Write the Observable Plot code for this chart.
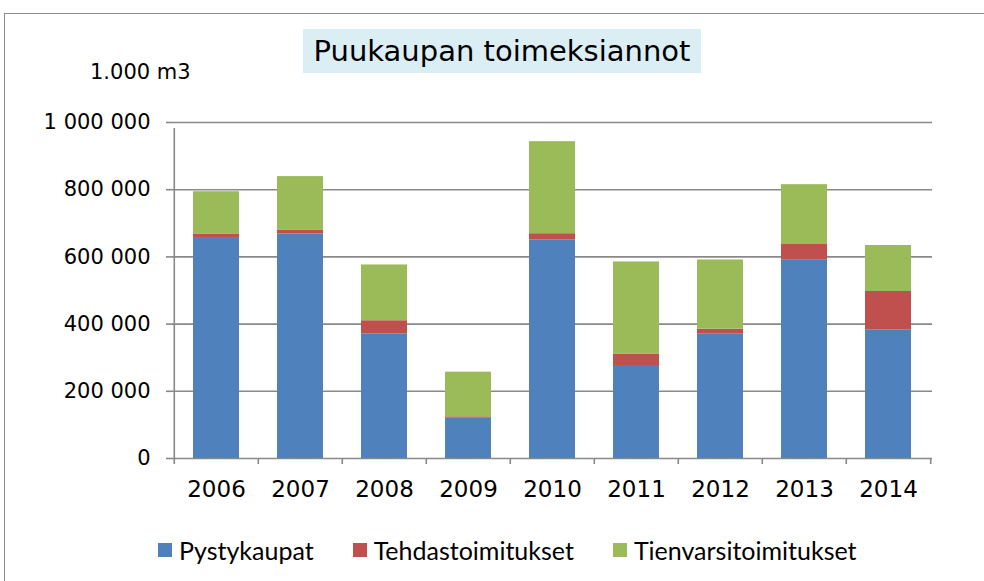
<!DOCTYPE html>
<html>
<head>
<meta charset="utf-8">
<script src="https://cdn.jsdelivr.net/npm/d3@7"></script>
<script src="https://cdn.jsdelivr.net/npm/@observablehq/plot@0.6"></script>
<style>
  html, body { margin: 0; padding: 0; background: #fff; }
  #wrap { position: relative; width: 984px; height: 581px; overflow: hidden; background: #fff; }
  #frame { position: absolute; left: 4px; top: 13px; width: 1000px; height: 600px; border: 1.5px solid #8c8c8c; box-sizing: border-box; }
  #title { position: absolute; left: 303px; top: 29px; width: 398px; height: 44px; background: #DBEEF4;
           font-family: "DejaVu Sans", Verdana, sans-serif; font-size: 29px; line-height: 44px; text-align: center; color: #000; }
  #unit { position: absolute; left: 90px; top: 60px; font-family: "DejaVu Sans", Verdana, sans-serif; font-size: 21px; color: #000; }
  #chart { position: absolute; left: 0; top: 0; }
  #legend { position: absolute; left: 158px; top: 535px; display: flex; gap: 39px; font-family: Lato, "Open Sans", sans-serif; font-size: 25px; color: #000; }
  .item { display: flex; align-items: center; gap: 7px; }
  .sw { width: 14px; height: 14px; display: inline-block; }
</style>
</head>
<body>
<div id="wrap">
  <div id="frame"></div>
  <div id="chart"></div>
  <div id="title">Puukaupan toimeksiannot</div>
  <div id="unit">1.000 m3</div>
  <div id="legend"></div>
</div>
<script>
const years = ["2006", "2007", "2008", "2009", "2010", "2011", "2012", "2013", "2014"];
const pystykaupat = [655000, 668000, 371000, 120000, 650000, 274000, 370000, 590000, 382000];
const tehdastoimitukset = [12000, 11000, 39000, 4000, 19000, 37000, 15000, 47000, 115000];
const tienvarsitoimitukset = [127000, 160000, 166000, 133000, 274000, 274000, 206000, 178000, 137000];
const seriesNames = ["Pystykaupat", "Tehdastoimitukset", "Tienvarsitoimitukset"];
const seriesColors = ["#4F81BD", "#C0504D", "#9BBB59"];
const yTicks = [0, 200000, 400000, 600000, 800000, 1000000];

const seriesValues = [pystykaupat, tehdastoimitukset, tienvarsitoimitukset];
const table = [];
seriesNames.forEach((s, si) => years.forEach((y, i) => table.push({year: y, series: s, value: seriesValues[si][i]})));

const width = 984, marginLeft = 172, marginRight = 52;
const step = (width - marginLeft - marginRight) / years.length;
const grid = "#898989";
const fmt = d => d3.format(",")(d).replace(/,/g, " ");

const chart = Plot.plot({
  width, height: 510,
  marginLeft, marginRight, marginTop: 122, marginBottom: 52,
  style: {fontFamily: "'DejaVu Sans', Verdana, sans-serif", color: "#000", background: "transparent"},
  x: {domain: years, paddingInner: 0.45, paddingOuter: 0.225, axis: null},
  y: {domain: [0, 1000000], axis: null},
  color: {domain: seriesNames, range: seriesColors},
  marks: [
    Plot.ruleY(yTicks, {stroke: grid, strokeWidth: 1.6}),
    Plot.barY(table, {x: "year", y: "value", fill: "series", order: seriesNames}),
    Plot.ruleX([years[0]], {x: d => d, y1: 0, y2: 1000000, dx: -step / 2, insetBottom: -6, stroke: grid, strokeWidth: 1.6}),
    Plot.ruleX(years, {x: d => d, y1: 0, y2: 0, dx: -step / 2, insetBottom: -6, stroke: grid, strokeWidth: 1.6}),
    Plot.ruleX([years[years.length - 1]], {x: d => d, y1: 0, y2: 0, dx: step / 2, insetBottom: -6, stroke: grid, strokeWidth: 1.6}),
    Plot.axisY({ticks: yTicks, tickFormat: fmt, tickSize: 6, tickPadding: 16, fontSize: 21, stroke: grid, strokeWidth: 1.6, label: null}),
    Plot.axisX({tickSize: 0, tickPadding: 22, fontSize: 23, label: null})
  ]
});
document.getElementById("chart").appendChild(chart);

const legend = document.getElementById("legend");
seriesNames.forEach((s, i) => {
  const it = document.createElement("div");
  it.className = "item";
  const sw = document.createElement("span");
  sw.className = "sw";
  sw.style.background = seriesColors[i];
  const t = document.createElement("span");
  t.textContent = s;
  it.appendChild(sw); it.appendChild(t);
  legend.appendChild(it);
});
</script>
</body>
</html>
